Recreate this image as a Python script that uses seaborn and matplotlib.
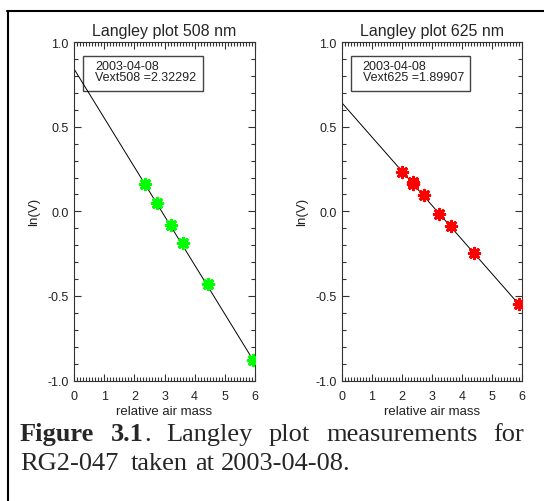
import numpy as np
import pandas as pd
import seaborn as sns
import matplotlib.pyplot as plt
from matplotlib.ticker import MultipleLocator, FormatStrFormatter
from matplotlib.lines import Line2D
from matplotlib.patches import Rectangle

# air mass / ln(V) readings per wavelength
airmass_508 = [2.35, 2.76, 3.21, 3.62, 4.45, 5.94]
lnv_508 = [0.16, 0.052, -0.08, -0.185, -0.43, -0.88]
airmass_625 = [2.00, 2.36, 2.38, 2.74, 3.22, 3.64, 4.41, 5.91]
lnv_625 = [0.235, 0.176, 0.162, 0.098, -0.014, -0.085, -0.245, -0.55]

# Langley fit: ln(V) = ln(Vext) - tau * m
vext = {'508': 2.32292, '625': 1.89907}
tau = {'508': 0.290, '625': 0.202}
date = '2003-04-08'

sns.set_theme(style='ticks')
plt.rcParams['font.family'] = ['Liberation Sans', 'DejaVu Sans']

W, H = 544, 502
fig = plt.figure(figsize=(W / 100, H / 100), dpi=100)
fig.patch.set_facecolor('white')


def px_box(x0, x1, y0, y1):
    return [x0 / W, 1 - y1 / H, (x1 - x0) / W, (y1 - y0) / H]


panels = [
    ('508', airmass_508, lnv_508, '#00ff00', px_box(74, 255, 43.3, 381.5)),
    ('625', airmass_625, lnv_625, '#ff0000', px_box(342, 522, 43.3, 381.5)),
]

for wl, m, lnv, col, pos in panels:
    ax = fig.add_axes(pos)
    df = pd.DataFrame({'airmass': m, 'lnV': lnv})
    mm = np.linspace(0, 6, 50)
    sns.lineplot(x=mm, y=np.log(vext[wl]) - tau[wl] * mm, color='black',
                 linewidth=0.7, ax=ax)
    sns.scatterplot(data=df, x='airmass', y='lnV', marker=(8, 2, 0), color=col,
                    s=55, linewidth=2.2, ax=ax, zorder=3)
    ax.set_xlim(0, 6)
    ax.set_ylim(-1, 1)
    ax.xaxis.set_major_locator(MultipleLocator(1))
    ax.xaxis.set_minor_locator(MultipleLocator(0.1))
    ax.yaxis.set_major_locator(MultipleLocator(0.5))
    ax.yaxis.set_minor_locator(MultipleLocator(0.1))
    ax.yaxis.set_major_formatter(FormatStrFormatter('%.1f'))
    ax.tick_params(which='both', direction='in', top=True, right=True,
                   width=0.8, color='#333333', labelsize=9, labelcolor='#222222')
    ax.tick_params(which='major', length=5)
    ax.tick_params(which='minor', length=3)
    ax.tick_params(axis='x', pad=7)
    ax.tick_params(axis='y', pad=4)
    for sp in ax.spines.values():
        sp.set_linewidth(0.8)
        sp.set_color('#333333')
    ax.set_title('Langley plot %s nm' % wl, fontsize=11.5, pad=5)
    ax.set_xlabel('relative air mass', fontsize=9.5, labelpad=2, color='#222222')
    ax.set_ylabel('ln(V)', fontsize=9.5, labelpad=5, color='#222222')

    ax.add_patch(Rectangle((0.05, 0.857), 0.66, 0.103, transform=ax.transAxes,
                           fill=False, edgecolor='#444444', linewidth=1))
    lines = [date, 'Vext%s =%.5f' % (wl, vext[wl])]
    for i, t in enumerate(lines):
        ax.text(0.115, 0.929 - i * 0.033, t, transform=ax.transAxes,
                fontsize=9, va='center', ha='left', color='#222222')

# page border (top and left)
fig.add_artist(Line2D([7 / W, 1], [1 - 12 / H, 1 - 12 / H], color='black', linewidth=1.5))
fig.add_artist(Line2D([8 / W, 8 / W], [0, 1 - 12 / H], color='black', linewidth=1.5))

# caption, word by word to mimic the justified line
cap1 = ['Figure', '3.1', '.', 'Langley', 'plot', 'measurements', 'for']
cap1_bold = [True, True, False, False, False, False, False]
cap1_x = [20, 111, 144, 166, 269, 326, 493]
for w, b, x in zip(cap1, cap1_bold, cap1_x):
    fig.text(x / W, 1 - 441 / H, w, fontsize=19, family='Liberation Serif',
             fontweight='bold' if b else 'normal', va='baseline', ha='left')

cap2 = ['RG2-047', 'taken', 'at', '2003-04-08.']
cap2_x = [20, 131, 195, 221]
for w, x in zip(cap2, cap2_x):
    fig.text(x / W, 1 - 470 / H, w, fontsize=19, family='Liberation Serif',
             va='baseline', ha='left')

fig.savefig('out.png', dpi=100)
